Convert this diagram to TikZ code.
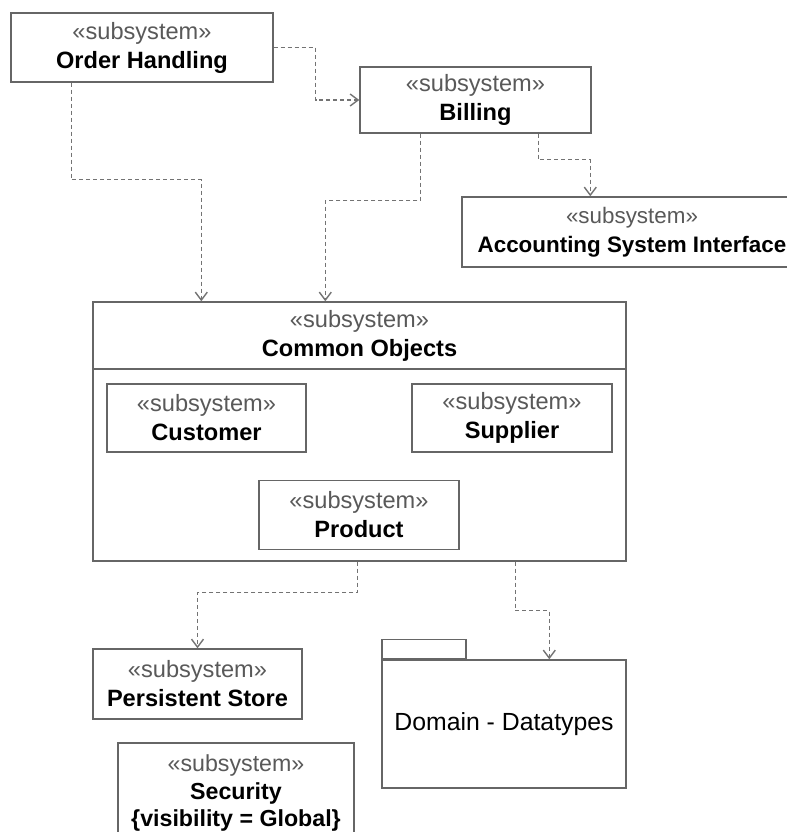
\documentclass[tikz,border=0pt]{standalone}
\usepackage{fontspec}
\setmainfont{Liberation Sans}
\usetikzlibrary{arrows.meta, calc}

\newcommand{\stype}{{\color{black!65}«subsystem»}\\}

\begin{document}
\begin{tikzpicture}[
    x=0.5pt, y=-0.5pt,
    subsys/.style={rectangle, draw=black!60, line width=0.7pt, fill=white, align=center, inner sep=0pt, font=\fontsize{11.8}{14.5}\selectfont},
    dep/.style={draw=black!55, line width=0.7pt, dash pattern=on 2pt off 1.5pt, -{Straight Barb[length=4pt,width=6pt]}}
]
\useasboundingbox (0,0) rectangle (787,832);

\node [subsys, minimum width=131pt, minimum height=34.5pt] (order) at (142,47.5) {\stype\textbf{Order Handling}};
\node [subsys, minimum width=115.5pt, minimum height=33pt] (billing) at (475.5,100) {\stype\textbf{Billing}};
\node [subsys, minimum width=170pt, minimum height=35pt, font=\fontsize{11.2}{14.5}\selectfont] (acct) at (632,232) {\stype\textbf{Accounting System Interface}};

% common objects with its nested subsystems
\node [subsys, minimum width=266.5pt, minimum height=129.5pt] (common) at (359.5,431.5) {};
\node [subsys, minimum width=266.5pt, minimum height=33.5pt] (commontitle) at (359.5,335.5) {\stype\textbf{Common Objects}};
\node [subsys, minimum width=99.5pt, minimum height=34pt] (customer) at (206.5,418) {\stype\textbf{Customer}};
\node [subsys, minimum width=100pt, minimum height=34pt] (supplier) at (512,418) {\stype\textbf{Supplier}};
\node [subsys, minimum width=100pt, minimum height=34.5pt] (product) at (359,515) {\stype\textbf{Product}};

\node [subsys, minimum width=104.5pt, minimum height=35pt] (persist) at (197.5,684) {\stype\textbf{Persistent Store}};
\node [subsys, minimum width=118pt, minimum height=50pt, font=\fontsize{11.6}{13.6}\selectfont] (security) at (236,793) {\stype\textbf{Security}\\\textbf{\{visibility = Global\}}};

% package
\node [subsys, minimum width=122pt, minimum height=64pt, font=\fontsize{12.4}{14.5}\selectfont] (domain) at (504,724) {Domain - Datatypes};
\node [subsys, minimum width=42pt, minimum height=9.5pt, anchor=south west] (domaintab) at (domain.north west) {};

\draw [dep] (order.east) -- ++(42,0) |- (billing.west);
\draw [dep] ($(order.south west)+(61,0)$) -- ++(0,97) -| ($(common.north west)+(109,0)$);
\draw [dep] ($(billing.south west)+(61,0)$) -- ++(0,67) -| ($(common.north west)+(233,0)$);
\draw [dep] ($(billing.south west)+(179,0)$) -- ++(0,26) -| ($(acct.north west)+(129,0)$);
\draw [dep] ($(common.south west)+(265,0)$) -- ++(0,31) -| (persist.north);
\draw [dep] ($(common.south west)+(423,0)$) -- ++(0,49) -| ($(domain.north west)+(168,0)$);

\end{tikzpicture}
\end{document}
